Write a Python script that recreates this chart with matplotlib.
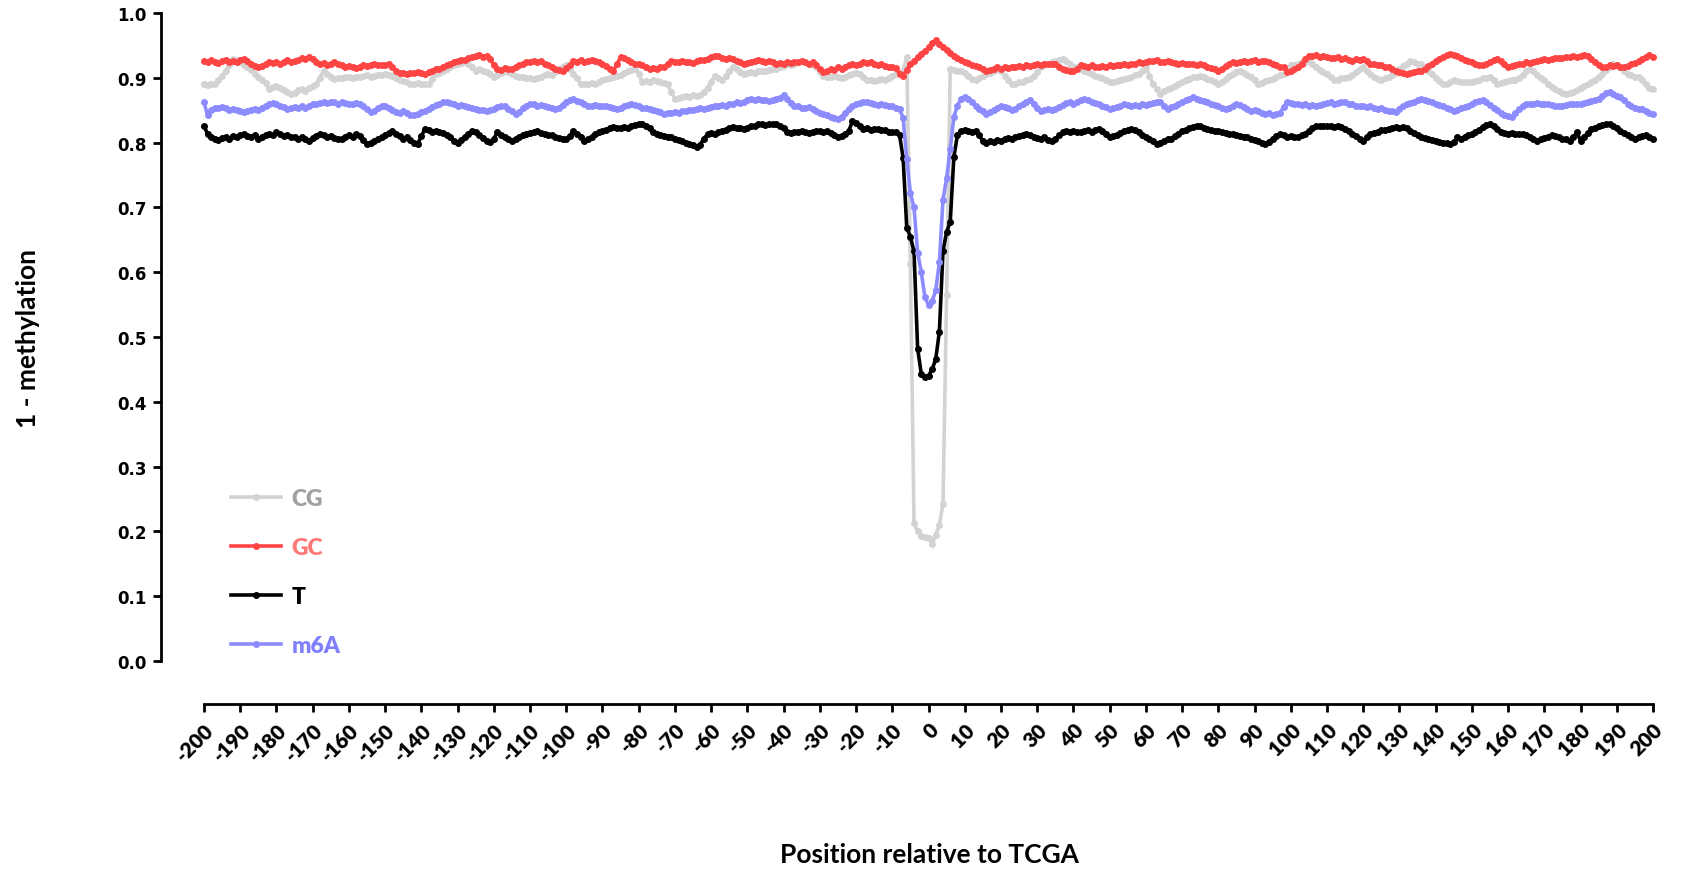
import numpy as np
import matplotlib
matplotlib.use("Agg")
import matplotlib.pyplot as plt

# position relative to TCGA, one point per base
positions = list(range(-200, 201))

cg = [
    0.890, 0.889, 0.891, 0.890, 0.896, 0.903, 0.911, 0.920, 0.929, 0.927,
    0.924, 0.919, 0.916, 0.912, 0.906, 0.901, 0.897, 0.892, 0.883, 0.886,
    0.888, 0.885, 0.881, 0.878, 0.875, 0.877, 0.881, 0.883, 0.880, 0.885,
    0.888, 0.890, 0.900, 0.911, 0.906, 0.901, 0.898, 0.900, 0.899, 0.901,
    0.901, 0.900, 0.902, 0.901, 0.903, 0.904, 0.902, 0.903, 0.905, 0.904,
    0.906, 0.905, 0.903, 0.899, 0.896, 0.895, 0.893, 0.891, 0.890, 0.892,
    0.891, 0.890, 0.890, 0.898, 0.906, 0.908, 0.911, 0.914, 0.916, 0.919,
    0.921, 0.923, 0.924, 0.921, 0.917, 0.911, 0.913, 0.910, 0.909, 0.906,
    0.901, 0.904, 0.908, 0.911, 0.909, 0.906, 0.903, 0.901, 0.902, 0.900,
    0.899, 0.898, 0.900, 0.902, 0.904, 0.906, 0.905, 0.909, 0.913, 0.917,
    0.919, 0.914, 0.906, 0.899, 0.890, 0.891, 0.890, 0.892, 0.890, 0.894,
    0.897, 0.898, 0.900, 0.901, 0.903, 0.905, 0.908, 0.910, 0.912, 0.914,
    0.906, 0.893, 0.895, 0.894, 0.896, 0.895, 0.893, 0.892, 0.890, 0.878,
    0.867, 0.869, 0.870, 0.872, 0.871, 0.873, 0.872, 0.874, 0.878, 0.885,
    0.894, 0.903, 0.899, 0.896, 0.903, 0.910, 0.916, 0.913, 0.909, 0.906,
    0.907, 0.909, 0.908, 0.910, 0.911, 0.910, 0.912, 0.914, 0.913, 0.916,
    0.918, 0.921, 0.920, 0.922, 0.924, 0.926, 0.925, 0.922, 0.919, 0.916,
    0.909, 0.903, 0.902, 0.901, 0.903, 0.901, 0.900, 0.902, 0.904, 0.906,
    0.908, 0.906, 0.901, 0.896, 0.897, 0.895, 0.896, 0.898, 0.897, 0.900,
    0.903, 0.906, 0.908, 0.911, 0.932, 0.613, 0.213, 0.200, 0.193, 0.192,
    0.190, 0.180, 0.195, 0.210, 0.243, 0.565, 0.914, 0.912, 0.910, 0.911,
    0.908, 0.903, 0.898, 0.896, 0.899, 0.903, 0.906, 0.908, 0.911, 0.914,
    0.910, 0.903, 0.896, 0.890, 0.891, 0.893, 0.894, 0.896, 0.898, 0.903,
    0.909, 0.916, 0.919, 0.921, 0.924, 0.926, 0.928, 0.929, 0.926, 0.921,
    0.916, 0.916, 0.914, 0.911, 0.909, 0.906, 0.903, 0.901, 0.899, 0.896,
    0.894, 0.893, 0.895, 0.897, 0.898, 0.900, 0.902, 0.904, 0.906, 0.911,
    0.916, 0.903, 0.890, 0.882, 0.875, 0.879, 0.882, 0.885, 0.888, 0.891,
    0.894, 0.896, 0.898, 0.901, 0.902, 0.903, 0.901, 0.898, 0.896, 0.893,
    0.890, 0.894, 0.898, 0.903, 0.906, 0.909, 0.911, 0.908, 0.904, 0.901,
    0.896, 0.890, 0.892, 0.895, 0.896, 0.898, 0.901, 0.904, 0.906, 0.912,
    0.919, 0.920, 0.922, 0.924, 0.925, 0.926, 0.922, 0.917, 0.912, 0.909,
    0.906, 0.902, 0.896, 0.897, 0.899, 0.900, 0.901, 0.905, 0.909, 0.913,
    0.916, 0.911, 0.906, 0.902, 0.898, 0.896, 0.899, 0.902, 0.905, 0.908,
    0.913, 0.918, 0.922, 0.926, 0.924, 0.922, 0.921, 0.916, 0.911, 0.906,
    0.900, 0.895, 0.891, 0.890, 0.893, 0.896, 0.895, 0.894, 0.893, 0.894,
    0.893, 0.895, 0.897, 0.899, 0.900, 0.901, 0.896, 0.890, 0.892, 0.894,
    0.895, 0.896, 0.896, 0.900, 0.905, 0.910, 0.914, 0.911, 0.905, 0.900,
    0.896, 0.891, 0.886, 0.883, 0.880, 0.877, 0.875, 0.876, 0.878, 0.881,
    0.885, 0.887, 0.890, 0.893, 0.896, 0.901, 0.906, 0.912, 0.916, 0.921,
    0.920, 0.916, 0.911, 0.906, 0.904, 0.902, 0.901, 0.896, 0.891, 0.885,
    0.883,
]

gc = [
    0.926, 0.924, 0.927, 0.925, 0.923, 0.926, 0.928, 0.925, 0.926, 0.924,
    0.927, 0.929, 0.926, 0.922, 0.918, 0.916, 0.918, 0.921, 0.924, 0.923,
    0.924, 0.922, 0.925, 0.927, 0.924, 0.926, 0.928, 0.930, 0.929, 0.932,
    0.929, 0.925, 0.921, 0.923, 0.920, 0.922, 0.924, 0.921, 0.919, 0.917,
    0.918, 0.916, 0.915, 0.917, 0.919, 0.918, 0.920, 0.921, 0.919, 0.920,
    0.919, 0.921, 0.916, 0.911, 0.907, 0.908, 0.906, 0.908, 0.907, 0.909,
    0.907, 0.906, 0.909, 0.911, 0.914, 0.913, 0.916, 0.919, 0.922, 0.925,
    0.926, 0.928, 0.927, 0.930, 0.932, 0.934, 0.935, 0.932, 0.934, 0.929,
    0.920, 0.914, 0.912, 0.915, 0.913, 0.914, 0.916, 0.919, 0.921, 0.924,
    0.924, 0.926, 0.925, 0.926, 0.922, 0.919, 0.916, 0.914, 0.912, 0.911,
    0.915, 0.920, 0.926, 0.925, 0.927, 0.924, 0.926, 0.928, 0.926, 0.924,
    0.921, 0.918, 0.913, 0.911, 0.921, 0.932, 0.930, 0.927, 0.924, 0.922,
    0.921, 0.919, 0.916, 0.914, 0.915, 0.914, 0.916, 0.917, 0.921, 0.926,
    0.925, 0.924, 0.926, 0.925, 0.924, 0.923, 0.926, 0.928, 0.927, 0.929,
    0.932, 0.934, 0.933, 0.931, 0.929, 0.930, 0.929, 0.926, 0.924, 0.921,
    0.923, 0.925, 0.926, 0.928, 0.926, 0.924, 0.926, 0.924, 0.921, 0.923,
    0.922, 0.924, 0.923, 0.925, 0.924, 0.926, 0.924, 0.922, 0.924, 0.920,
    0.914, 0.909, 0.911, 0.913, 0.912, 0.916, 0.914, 0.917, 0.919, 0.921,
    0.920, 0.922, 0.924, 0.923, 0.924, 0.922, 0.919, 0.921, 0.918, 0.917,
    0.916, 0.915, 0.906, 0.903, 0.912, 0.921, 0.926, 0.932, 0.937, 0.941,
    0.947, 0.953, 0.958, 0.952, 0.947, 0.943, 0.938, 0.934, 0.931, 0.927,
    0.925, 0.923, 0.919, 0.918, 0.916, 0.913, 0.911, 0.912, 0.914, 0.916,
    0.914, 0.916, 0.915, 0.917, 0.916, 0.918, 0.917, 0.919, 0.918, 0.920,
    0.921, 0.920, 0.922, 0.921, 0.922, 0.921, 0.917, 0.914, 0.912, 0.911,
    0.911, 0.914, 0.919, 0.918, 0.917, 0.919, 0.916, 0.916, 0.918, 0.917,
    0.919, 0.918, 0.920, 0.919, 0.921, 0.920, 0.921, 0.922, 0.924, 0.923,
    0.925, 0.926, 0.926, 0.927, 0.925, 0.924, 0.926, 0.924, 0.923, 0.922,
    0.923, 0.921, 0.922, 0.921, 0.920, 0.921, 0.919, 0.917, 0.915, 0.913,
    0.911, 0.914, 0.918, 0.921, 0.924, 0.923, 0.925, 0.926, 0.924, 0.926,
    0.927, 0.925, 0.926, 0.926, 0.924, 0.922, 0.919, 0.917, 0.916, 0.909,
    0.910, 0.913, 0.916, 0.922, 0.929, 0.934, 0.933, 0.935, 0.932, 0.933,
    0.932, 0.930, 0.931, 0.932, 0.929, 0.930, 0.927, 0.926, 0.929, 0.927,
    0.929, 0.926, 0.921, 0.922, 0.919, 0.920, 0.917, 0.916, 0.913, 0.911,
    0.909, 0.908, 0.906, 0.907, 0.909, 0.911, 0.911, 0.914, 0.918, 0.922,
    0.926, 0.929, 0.932, 0.935, 0.937, 0.935, 0.933, 0.931, 0.928, 0.926,
    0.925, 0.922, 0.920, 0.919, 0.922, 0.925, 0.927, 0.929, 0.926, 0.921,
    0.916, 0.918, 0.919, 0.921, 0.922, 0.924, 0.923, 0.925, 0.926, 0.927,
    0.929, 0.928, 0.929, 0.930, 0.931, 0.930, 0.932, 0.932, 0.933, 0.932,
    0.934, 0.935, 0.933, 0.929, 0.924, 0.920, 0.916, 0.917, 0.919, 0.918,
    0.919, 0.917, 0.916, 0.918, 0.921, 0.923, 0.926, 0.929, 0.932, 0.935,
    0.932,
]

t = [
    0.826, 0.813, 0.808, 0.806, 0.804, 0.807, 0.809, 0.806, 0.810, 0.808,
    0.811, 0.813, 0.810, 0.808, 0.811, 0.806, 0.809, 0.812, 0.814, 0.812,
    0.816, 0.813, 0.810, 0.812, 0.809, 0.808, 0.806, 0.808, 0.805, 0.803,
    0.807, 0.810, 0.813, 0.811, 0.809, 0.810, 0.807, 0.805, 0.806, 0.809,
    0.811, 0.809, 0.813, 0.810, 0.804, 0.798, 0.800, 0.803, 0.806, 0.808,
    0.812, 0.815, 0.818, 0.814, 0.810, 0.806, 0.808, 0.804, 0.800, 0.798,
    0.810, 0.821, 0.819, 0.817, 0.818, 0.816, 0.815, 0.812, 0.808, 0.803,
    0.800, 0.804, 0.809, 0.814, 0.818, 0.816, 0.812, 0.807, 0.803, 0.801,
    0.806, 0.816, 0.812, 0.808, 0.805, 0.803, 0.806, 0.809, 0.811, 0.813,
    0.815, 0.816, 0.818, 0.815, 0.813, 0.811, 0.811, 0.809, 0.807, 0.806,
    0.806, 0.810, 0.818, 0.814, 0.808, 0.803, 0.806, 0.809, 0.813, 0.816,
    0.818, 0.820, 0.822, 0.824, 0.823, 0.822, 0.824, 0.823, 0.825, 0.827,
    0.828, 0.829, 0.826, 0.822, 0.817, 0.813, 0.811, 0.810, 0.809, 0.808,
    0.806, 0.804, 0.802, 0.800, 0.798, 0.796, 0.793, 0.797, 0.806, 0.813,
    0.815, 0.814, 0.816, 0.818, 0.820, 0.822, 0.824, 0.823, 0.822, 0.821,
    0.823, 0.825, 0.826, 0.828, 0.829, 0.827, 0.828, 0.829, 0.828, 0.825,
    0.822, 0.816, 0.815, 0.817, 0.816, 0.818, 0.817, 0.815, 0.817, 0.818,
    0.818, 0.816, 0.818, 0.815, 0.811, 0.808, 0.810, 0.813, 0.818, 0.833,
    0.830, 0.826, 0.821, 0.822, 0.820, 0.821, 0.821, 0.819, 0.820, 0.817,
    0.816, 0.816, 0.812, 0.776, 0.668, 0.655, 0.632, 0.482, 0.443, 0.438,
    0.440, 0.450, 0.466, 0.508, 0.633, 0.662, 0.678, 0.778, 0.812, 0.818,
    0.819, 0.818, 0.817, 0.818, 0.812, 0.802, 0.800, 0.803, 0.801, 0.804,
    0.803, 0.805, 0.807, 0.806, 0.808, 0.810, 0.811, 0.813, 0.812, 0.809,
    0.807, 0.806, 0.808, 0.804, 0.803, 0.806, 0.811, 0.816, 0.818, 0.817,
    0.818, 0.816, 0.817, 0.818, 0.819, 0.817, 0.820, 0.821, 0.818, 0.813,
    0.809, 0.810, 0.812, 0.815, 0.818, 0.820, 0.821, 0.819, 0.816, 0.812,
    0.808, 0.806, 0.803, 0.798, 0.800, 0.803, 0.806, 0.806, 0.810, 0.814,
    0.818, 0.820, 0.822, 0.824, 0.826, 0.825, 0.823, 0.821, 0.819, 0.818,
    0.818, 0.816, 0.815, 0.814, 0.813, 0.812, 0.810, 0.809, 0.808, 0.806,
    0.804, 0.802, 0.800, 0.798, 0.801, 0.806, 0.810, 0.813, 0.811, 0.809,
    0.810, 0.808, 0.808, 0.811, 0.814, 0.818, 0.822, 0.826, 0.825, 0.826,
    0.826, 0.825, 0.824, 0.825, 0.824, 0.821, 0.818, 0.813, 0.810, 0.806,
    0.803, 0.808, 0.813, 0.815, 0.817, 0.819, 0.820, 0.821, 0.822, 0.824,
    0.823, 0.824, 0.822, 0.818, 0.815, 0.811, 0.809, 0.807, 0.805, 0.804,
    0.803, 0.801, 0.800, 0.799, 0.798, 0.801, 0.808, 0.806, 0.809, 0.811,
    0.813, 0.816, 0.820, 0.824, 0.827, 0.829, 0.826, 0.821, 0.816, 0.815,
    0.814, 0.815, 0.813, 0.814, 0.813, 0.811, 0.809, 0.806, 0.803, 0.805,
    0.807, 0.809, 0.811, 0.810, 0.808, 0.806, 0.805, 0.803, 0.808, 0.816,
    0.803, 0.809, 0.815, 0.821, 0.823, 0.825, 0.827, 0.829, 0.828, 0.826,
    0.822, 0.818, 0.815, 0.812, 0.809, 0.806, 0.808, 0.810, 0.811, 0.808,
    0.806,
]

m6a = [
    0.862, 0.842, 0.850, 0.854, 0.853, 0.855, 0.853, 0.851, 0.852, 0.850,
    0.849, 0.847, 0.848, 0.850, 0.852, 0.851, 0.854, 0.857, 0.860, 0.861,
    0.859, 0.857, 0.855, 0.852, 0.853, 0.855, 0.854, 0.856, 0.854, 0.857,
    0.859, 0.860, 0.861, 0.862, 0.861, 0.863, 0.862, 0.860, 0.862, 0.861,
    0.860, 0.859, 0.861, 0.860, 0.856, 0.852, 0.847, 0.849, 0.853, 0.856,
    0.857, 0.854, 0.850, 0.847, 0.846, 0.848, 0.845, 0.843, 0.842, 0.844,
    0.847, 0.849, 0.852, 0.855, 0.858, 0.860, 0.862, 0.863, 0.861, 0.859,
    0.857, 0.858, 0.856, 0.855, 0.853, 0.852, 0.850, 0.851, 0.849, 0.850,
    0.852, 0.855, 0.857, 0.856, 0.852, 0.848, 0.844, 0.847, 0.853, 0.857,
    0.860, 0.859, 0.857, 0.858, 0.857, 0.855, 0.853, 0.852, 0.854, 0.858,
    0.862, 0.865, 0.867, 0.864, 0.862, 0.859, 0.857, 0.856, 0.858, 0.857,
    0.856, 0.857, 0.855, 0.853, 0.852, 0.854, 0.856, 0.858, 0.860, 0.858,
    0.856, 0.854, 0.853, 0.852, 0.850, 0.849, 0.847, 0.844, 0.845, 0.846,
    0.847, 0.846, 0.848, 0.849, 0.850, 0.851, 0.852, 0.853, 0.852, 0.854,
    0.855, 0.856, 0.857, 0.858, 0.857, 0.859, 0.860, 0.862, 0.861, 0.863,
    0.865, 0.867, 0.866, 0.868, 0.866, 0.865, 0.864, 0.866, 0.867, 0.869,
    0.873, 0.867, 0.861, 0.857, 0.856, 0.854, 0.853, 0.855, 0.852, 0.849,
    0.846, 0.844, 0.842, 0.840, 0.838, 0.837, 0.840, 0.846, 0.852, 0.857,
    0.859, 0.861, 0.862, 0.863, 0.861, 0.860, 0.858, 0.859, 0.858, 0.857,
    0.856, 0.853, 0.852, 0.838, 0.775, 0.722, 0.700, 0.630, 0.600, 0.562,
    0.549, 0.555, 0.572, 0.615, 0.712, 0.745, 0.790, 0.840, 0.857, 0.868,
    0.870, 0.867, 0.862, 0.857, 0.852, 0.848, 0.844, 0.847, 0.850, 0.853,
    0.857, 0.855, 0.853, 0.851, 0.852, 0.856, 0.860, 0.863, 0.865, 0.860,
    0.853, 0.849, 0.850, 0.852, 0.851, 0.852, 0.855, 0.858, 0.861, 0.862,
    0.860, 0.863, 0.865, 0.867, 0.865, 0.863, 0.861, 0.860, 0.857, 0.855,
    0.852, 0.853, 0.855, 0.857, 0.860, 0.858, 0.857, 0.858, 0.857, 0.859,
    0.858, 0.860, 0.861, 0.863, 0.862, 0.857, 0.852, 0.855, 0.857, 0.860,
    0.863, 0.866, 0.868, 0.870, 0.868, 0.866, 0.864, 0.862, 0.860, 0.858,
    0.856, 0.854, 0.852, 0.854, 0.857, 0.860, 0.858, 0.855, 0.852, 0.849,
    0.850, 0.848, 0.846, 0.844, 0.845, 0.843, 0.844, 0.845, 0.855, 0.862,
    0.861, 0.860, 0.860, 0.858, 0.859, 0.857, 0.858, 0.857, 0.858, 0.860,
    0.861, 0.862, 0.860, 0.861, 0.862, 0.862, 0.860, 0.859, 0.857, 0.856,
    0.857, 0.855, 0.856, 0.854, 0.852, 0.853, 0.850, 0.849, 0.848, 0.847,
    0.852, 0.856, 0.860, 0.861, 0.863, 0.865, 0.867, 0.866, 0.864, 0.862,
    0.860, 0.858, 0.857, 0.854, 0.852, 0.849, 0.851, 0.853, 0.855, 0.857,
    0.860, 0.862, 0.864, 0.865, 0.862, 0.858, 0.853, 0.850, 0.846, 0.843,
    0.841, 0.839, 0.845, 0.852, 0.857, 0.860, 0.859, 0.860, 0.861, 0.860,
    0.860, 0.859, 0.858, 0.857, 0.857, 0.857, 0.858, 0.859, 0.860, 0.859,
    0.860, 0.861, 0.862, 0.864, 0.865, 0.868, 0.872, 0.877, 0.878, 0.875,
    0.872, 0.870, 0.866, 0.860, 0.856, 0.853, 0.852, 0.852, 0.849, 0.846,
    0.844,
]

series_names = ["CG", "GC", "T", "m6A"]
line_colors = ["#d3d3d3", "#ff4444", "#000000", "#8c8cff"]
label_colors = ["#a0a0a0", "#ff7878", "#000000", "#8080ff"]

y_ticks = [0.0, 0.1, 0.2, 0.3, 0.4, 0.5, 0.6, 0.7, 0.8, 0.9, 1.0]
x_ticks = list(range(-200, 201, 10))

fig = plt.figure(figsize=(16.82, 8.70), dpi=100)
ax = fig.add_axes([204 / 1682, 1 - 662 / 870, 1449 / 1682, 648 / 870])

for name, vals, col in zip(series_names, [cg, gc, t, m6a], line_colors):
    ax.plot(positions, vals, color=col, lw=2.6, marker="o", ms=4.0,
            mec=col, mfc=col, label=name, clip_on=False)

ax.set_xlim(-200, 200)
ax.set_ylim(0, 1)

for s in ["top", "right"]:
    ax.spines[s].set_visible(False)
ax.spines["left"].set_position(("outward", 31))
ax.spines["bottom"].set_position(("outward", 31))
ax.spines["left"].set_bounds(0, 1)
ax.spines["bottom"].set_bounds(-200, 200)
ax.spines["left"].set_linewidth(2.0)
ax.spines["bottom"].set_linewidth(2.0)

ax.set_yticks(y_ticks)
ax.set_yticklabels(["%.1f" % v for v in y_ticks], fontfamily="DejaVu Sans",
                   fontweight="bold", fontsize=12)
ax.set_xticks(x_ticks)
ax.set_xticklabels([str(v) for v in x_ticks], rotation=45, ha="right",
                   rotation_mode="anchor", fontfamily="Lato",
                   fontweight="heavy", fontsize=15)
ax.tick_params(axis="both", direction="out", length=6, width=2.0)
ax.tick_params(axis="y", pad=4)
ax.tick_params(axis="x", pad=5)

ax.set_ylabel("1 - methylation", fontfamily="Lato", fontweight="bold",
              fontsize=19)
ax.yaxis.set_label_coords(-0.113, 0.5)
fig.text(929 / 1682, 1 - 855 / 870, "Position relative to TCGA",
         fontfamily="Lato", fontweight="bold", fontsize=19,
         ha="center", va="center")

leg = ax.legend(loc="lower left", bbox_to_anchor=(0.0186, 0.008),
                frameon=False, borderpad=0, borderaxespad=0,
                handlelength=2.2, handletextpad=0.45, labelspacing=1.22,
                prop={"family": "Lato", "weight": "heavy", "size": 16.5})
for txt, c in zip(leg.get_texts(), label_colors):
    txt.set_color(c)

fig.savefig("out.png", dpi=100)
